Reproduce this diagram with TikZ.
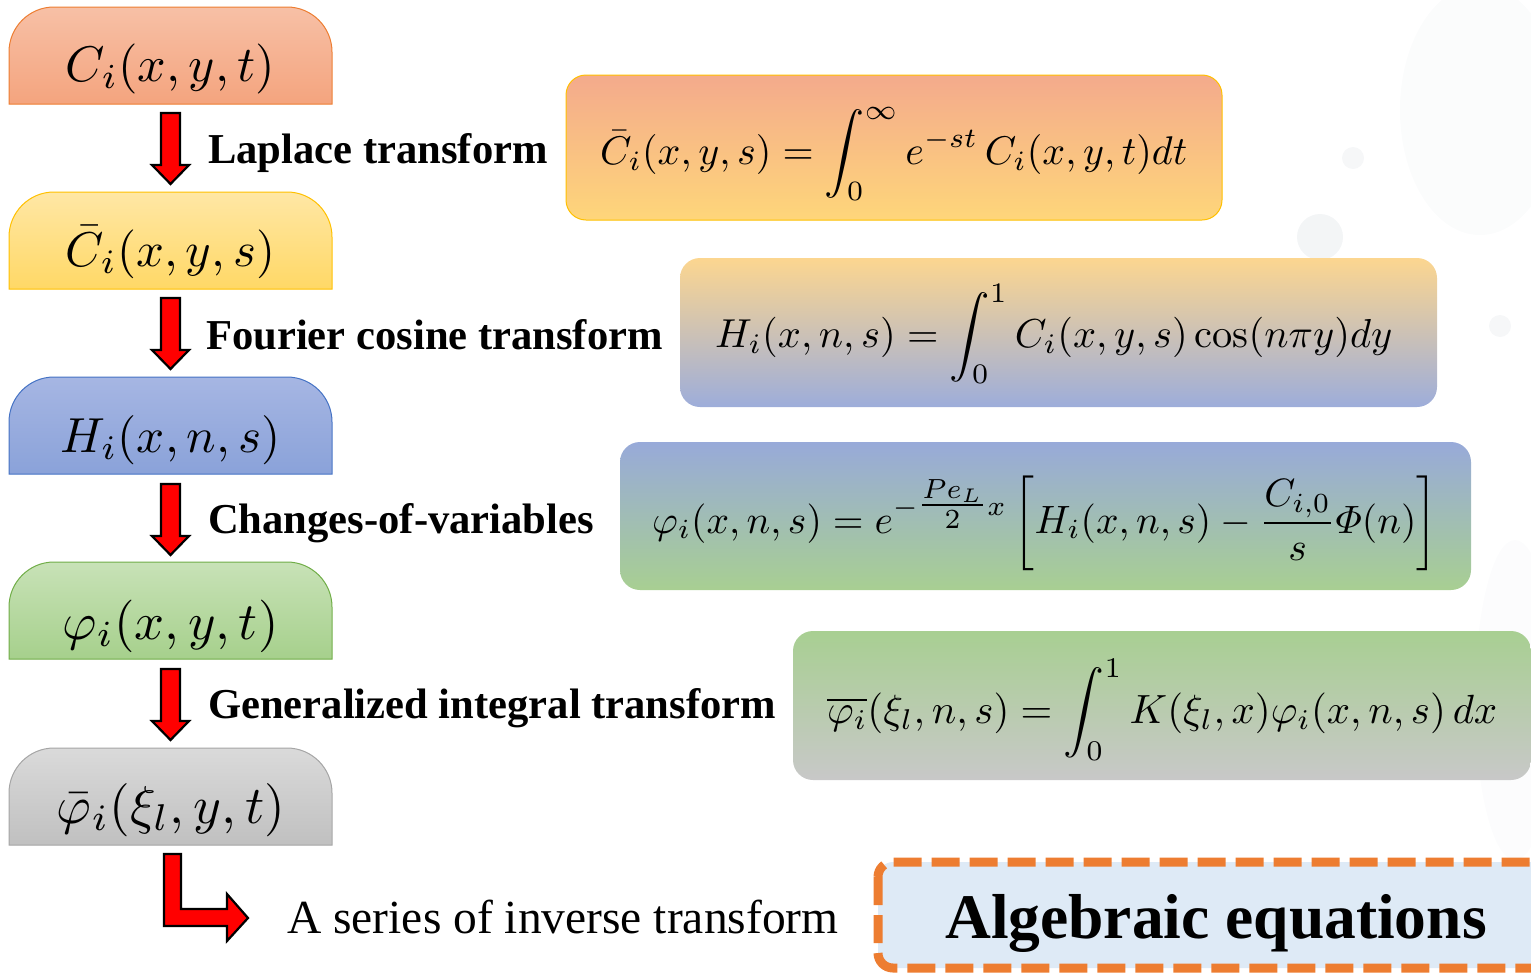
\documentclass[tikz,border=0pt]{standalone}
\usepackage{fontspec}
\usepackage{amsmath}
\usepackage{graphicx}
\newfontfamily\tnr{Liberation Serif}
\usetikzlibrary{calc}
\definecolor{b1t}{RGB}{247,192,166}\definecolor{b1b}{RGB}{244,164,126}\definecolor{b1d}{RGB}{237,125,49}
\definecolor{b2t}{RGB}{255,231,165}\definecolor{b2b}{RGB}{255,216,102}\definecolor{b2d}{RGB}{255,192,0}
\definecolor{b3t}{RGB}{166,182,227}\definecolor{b3b}{RGB}{138,162,217}\definecolor{b3d}{RGB}{68,114,196}
\definecolor{b4t}{RGB}{200,226,183}\definecolor{b4b}{RGB}{166,208,140}\definecolor{b4d}{RGB}{112,173,71}
\definecolor{b5t}{RGB}{218,218,218}\definecolor{b5b}{RGB}{192,192,192}\definecolor{b5d}{RGB}{165,165,165}
\definecolor{r1t}{RGB}{244,170,140}\definecolor{r1b}{RGB}{254,214,122}\definecolor{r1d}{RGB}{255,192,0}
\definecolor{r2t}{RGB}{252,214,144}\definecolor{r2b}{RGB}{157,173,218}
\definecolor{r3t}{RGB}{152,170,217}\definecolor{r3b}{RGB}{168,207,146}
\definecolor{r4t}{RGB}{168,207,146}\definecolor{r4b}{RGB}{200,200,200}
\definecolor{dashor}{RGB}{237,125,49}\definecolor{algfill}{RGB}{222,234,246}
\definecolor{blob}{RGB}{228,232,236}
\tikzset{
  lab/.style={anchor=base west, inner sep=0pt, font=\tnr\bfseries\fontsize{42.6}{48}\selectfont},
  mathnode/.style={anchor=base, inner sep=0pt},
  rmath/.style={anchor=base west, inner sep=0pt},
  blockarrow/.style={fill=red, draw=black, line width=2.2pt},
  downarrow/.pic={\draw[blockarrow] (-9.5,0) -- (9.5,0) -- (9.5,52) -- (18.5,52) -- (0,71) -- (-18.5,52) -- (-9.5,52) -- cycle;},
  rbox/.style={rounded corners=20pt}
}
\begin{document}
\begin{tikzpicture}[x=1pt,y=-1pt]
\useasboundingbox (0,0) rectangle (1531,972);
\clip (0,0) rectangle (1531,972);
% faint background splashes
\fill[blob, opacity=0.15] (1480,110) ellipse [x radius=80pt, y radius=125pt];
\fill[blob, opacity=0.35] (1353,158) circle [radius=11pt];
\fill[blob, opacity=0.45] (1320,237) circle [radius=23pt];
\fill[blob, opacity=0.35] (1500,326) circle [radius=11pt];
\fill[blob, opacity=0.12] (1515,700) ellipse [x radius=40pt, y radius=160pt];
% left boxes
\foreach \y/\c in {7/1,192/2,377/3,562/4,748/5}{
  \path[draw=b\c d, line width=1pt, top color=b\c t, bottom color=b\c b]
    (9,\y+97) -- (9,\y+45) arc[start angle=180,end angle=90,radius=45pt]
    -- (287,\y) arc[start angle=90,end angle=0,radius=45pt] -- (332,\y+97) -- cycle;
}
\node[mathnode] (c1) at (170.5,81) {\resizebox{209pt}{!}{$C_i(x,y,t)$}};
\node[mathnode] (c2) at (170.5,266) {\resizebox{209pt}{!}{$\bar{C}_i(x,y,s)$}};
\node[mathnode] (c3) at (170.5,452) {\resizebox{220pt}{!}{$H_i(x,n,s)$}};
\node[mathnode] (c4) at (170.5,639) {\resizebox{216pt}{!}{$\varphi_i(x,y,t)$}};
\node[mathnode] (c5) at (171,823) {\resizebox{228pt}{!}{$\bar{\varphi}_i(\xi_l,y,t)$}};
% arrows
\pic at (170.5,113) {downarrow};
\pic at (170.5,298) {downarrow};
\pic at (170.5,484) {downarrow};
\pic at (170.5,669) {downarrow};
\draw[blockarrow] (164,854) -- (181,854) -- (181,909) -- (227,909) -- (227,894) -- (248,918) -- (227,941) -- (227,926) -- (164,926) -- cycle;
% labels
\node[lab] (l1) at (208,163) {Laplace transform};
\node[lab] (l2) at (206,349) {Fourier cosine transform};
\node[lab] (l3) at (208,533) {Changes-of-variables};
\node[lab] (l4) at (208,718) {Generalized integral transform};
\node[anchor=base west, inner sep=0pt, font=\tnr\fontsize{47.5}{55}\selectfont] (inv) at (287,933) {A series of inverse transform};
% right boxes
\path[rbox, draw=r1d, line width=1pt, top color=r1t, bottom color=r1b] (566,75) rectangle (1222,220);
\path[rbox, top color=r2t, bottom color=r2b] (680,258) rectangle (1437,407);
\path[rbox, top color=r3t, bottom color=r3b] (620,442) rectangle (1471,590);
\path[rbox, top color=r4t, bottom color=r4b] (793,631) rectangle (1531,780);
\node[rmath] (r1) at (600,164) {\resizebox{587pt}{!}{$\displaystyle \bar{C}_i(x,y,s)=\int_0^\infty e^{-st}\,C_i(x,y,t)dt$}};
\node[rmath] (r2) at (715,347) {\resizebox{677pt}{!}{$\displaystyle H_i(x,n,s)=\int_0^1 C_i(x,y,s)\cos(n\pi y)dy$}};
\node[rmath] (r3) at (652,533) {\resizebox{785pt}{!}{$\displaystyle \varphi_i(x,n,s)=e^{-\genfrac{}{}{}{1}{Pe_L}{2}x}\left[H_i(x,n,s)-\frac{C_{i,0}}{s}\varPhi(n)\right]$}};
\node[rmath] (r4) at (827,723) {\resizebox{670pt}{!}{$\displaystyle \overline{\varphi_i}(\xi_l,n,s)=\int_0^1 K(\xi_l,x)\varphi_i(x,n,s)\,dx$}};
% algebraic equations
\draw[draw=dashor, fill=algfill, line width=9pt, dash pattern=on 28pt off 10pt, rounded corners=15pt] (878,862) rectangle (1590,968);
\node[anchor=base west, inner sep=0pt, font=\tnr\bfseries\fontsize{63.5}{70}\selectfont] (alg) at (945,938) {Algebraic equations};
\end{tikzpicture}
\end{document}
